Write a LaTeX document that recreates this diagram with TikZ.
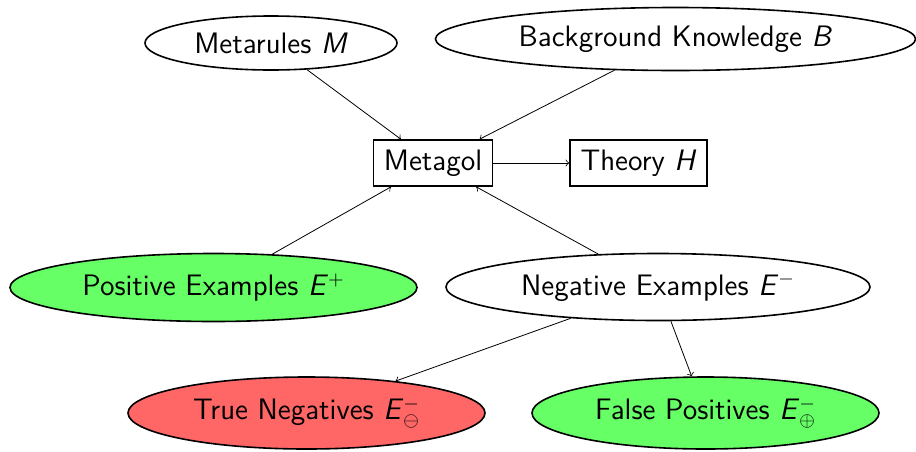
\documentclass[tikz,border=0pt]{standalone}
\usetikzlibrary{shapes.geometric}
\definecolor{posgreen}{HTML}{66FF66}
\definecolor{negred}{HTML}{FF6666}
\begin{document}
\begin{tikzpicture}[x=0.5pt,y=-0.5pt,
  every node/.style={font=\fontsize{14.8}{17}\selectfont\sffamily, inner sep=0pt},
  ell/.style={ellipse, draw, line width=0.8pt},
  boxnode/.style={rectangle, draw, line width=0.8pt},
  conn/.style={->, line width=0.4pt}]
\useasboundingbox (0,0) rectangle (916,451);
\node[ell, minimum width=126pt, minimum height=27pt] (meta) at (271,43) {Metarules \textit{M}};
\node[ell, minimum width=240pt, minimum height=31.5pt] (bk) at (675.5,39) {Background Knowledge \textit{B}};
\node[boxnode, minimum width=59.5pt, minimum height=23pt] (metagol) at (433,163) {Metagol};
\node[boxnode, minimum width=68.5pt, minimum height=23pt] (theory) at (638.5,163) {Theory \textit{H}};
\node[ell, fill=posgreen, minimum width=203.5pt, minimum height=34pt] (pos) at (213.5,287.5) {Positive Examples \textit{E}$^{+}$};
\node[ell, minimum width=212pt, minimum height=33.5pt] (neg) at (658,287) {Negative Examples \textit{E}$^{-}$};
\node[ell, fill=negred, minimum width=178.5pt, minimum height=36pt] (tn) at (306.5,413) {True Negatives \textit{E}$^{-}_{\ominus}$};
\node[ell, fill=posgreen, minimum width=173.5pt, minimum height=36pt] (fp) at (705.5,413) {False Positives \textit{E}$^{-}_{\oplus}$};
\draw[conn] (meta) -- (metagol);
\draw[conn] (bk) -- (metagol);
\draw[conn] (pos) -- (metagol);
\draw[conn] (neg) -- (metagol);
\draw[conn] (metagol) -- (theory);
\draw[conn] (neg) -- (tn);
\draw[conn] (neg) -- (fp);
\end{tikzpicture}
\end{document}
